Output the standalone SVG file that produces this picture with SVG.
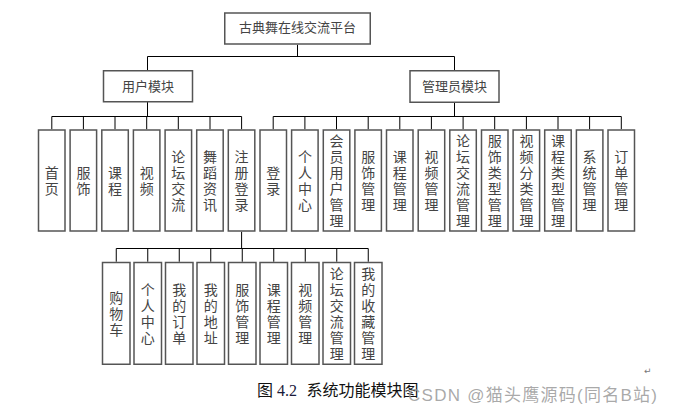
<svg xmlns="http://www.w3.org/2000/svg" width="677" height="413" viewBox="0 0 677 413">
<style>
.box{fill:#fff;stroke:#555;stroke-width:1.5}
.ln{stroke:#000;stroke-width:1;fill:none}
.t{font-family:"Noto Sans CJK SC","Liberation Serif",sans-serif;font-size:14px;fill:#444;text-anchor:middle}
.h{font-size:13px}
.v{writing-mode:vertical-rl;text-orientation:upright;letter-spacing:2px}
.cap{font-family:"Noto Sans CJK SC",sans-serif;font-size:16px;fill:#111}
</style>
<rect width="677" height="413" fill="#fff"/>
<g id="connectors">
<path class="ln" d="M297.5 44.75V56.5M147.5 56.5H454.5M147.5 56.5V70.75M454.5 56.5V70.75M147.5 102V116.5M454.5 102.25V116.5M51.8 116.5H241.6M273.2 116.5H621.3"/>
<path class="ln" d="M51.8 116.5V129.25M83.4 116.5V129.25M115 116.5V129.25M146.7 116.5V129.25M178.3 116.5V129.25M210 116.5V129.25M241.6 116.5V129.25M273.2 116.5V129.25M304.9 116.5V129.25M336.5 116.5V129.25M368.2 116.5V129.25M399.8 116.5V129.25M431.4 116.5V129.25M463.1 116.5V129.25M494.7 116.5V129.25M526.4 116.5V129.25M558 116.5V129.25M589.6 116.5V129.25M621.3 116.5V129.25"/>
<path class="ln" d="M241.6 231.75V248.5M116.25 248.5H368.25M116.25 248.5V261.75M147.75 248.5V261.75M179.25 248.5V261.75M210.75 248.5V261.75M242.25 248.5V261.75M273.75 248.5V261.75M305.25 248.5V261.75M336.75 248.5V261.75M368.25 248.5V261.75"/>
</g>
<g id="root"><rect class="box" x="224.75" y="13" width="145.5" height="31"/><text class="t h" x="297.5" y="31.5">古典舞在线交流平台</text></g>
<g id="user"><rect class="box" x="103.5" y="70.75" width="89" height="31"/><text class="t h" x="148" y="90.8">用户模块</text></g>
<g id="admin"><rect class="box" x="410" y="70.75" width="89" height="31.5"/><text class="t h" x="454.5" y="90.8">管理员模块</text></g>

<g id="u1"><rect class="box" x="38.5" y="130" width="26.5" height="101"/><text class="t v" x="51.8" y="181.5">首页</text></g>
<g id="u2"><rect class="box" x="70.1" y="130" width="26.5" height="101"/><text class="t v" x="83.4" y="181.5">服饰</text></g>
<g id="u3"><rect class="box" x="101.8" y="130" width="26.5" height="101"/><text class="t v" x="115" y="181.5">课程</text></g>
<g id="u4"><rect class="box" x="133.4" y="130" width="26.5" height="101"/><text class="t v" x="146.7" y="181.5">视频</text></g>
<g id="u5"><rect class="box" x="165.1" y="130" width="26.5" height="101"/><text class="t v" x="178.3" y="181.5">论坛交流</text></g>
<g id="u6"><rect class="box" x="196.7" y="130" width="26.5" height="101"/><text class="t v" x="210" y="181.5">舞蹈资讯</text></g>
<g id="u7"><rect class="box" x="228.3" y="130" width="26.5" height="101"/><text class="t v" x="241.6" y="181.5">注册登录</text></g>

<g id="a1"><rect class="box" x="260" y="130" width="26.5" height="101"/><text class="t v" x="273.2" y="181.5">登录</text></g>
<g id="a2"><rect class="box" x="291.6" y="130" width="26.5" height="101"/><text class="t v" x="304.9" y="181.5">个人中心</text></g>
<g id="a3"><rect class="box" x="323.3" y="130" width="26.5" height="101"/><text class="t v" x="336.5" y="181.5">会员用户管理</text></g>
<g id="a4"><rect class="box" x="354.9" y="130" width="26.5" height="101"/><text class="t v" x="368.2" y="181.5">服饰管理</text></g>
<g id="a5"><rect class="box" x="386.5" y="130" width="26.5" height="101"/><text class="t v" x="399.8" y="181.5">课程管理</text></g>
<g id="a6"><rect class="box" x="418.2" y="130" width="26.5" height="101"/><text class="t v" x="431.4" y="181.5">视频管理</text></g>
<g id="a7"><rect class="box" x="449.8" y="130" width="26.5" height="101"/><text class="t v" x="463.1" y="181.5">论坛交流管理</text></g>
<g id="a8"><rect class="box" x="481.5" y="130" width="26.5" height="101"/><text class="t v" x="494.7" y="181.5">服饰类型管理</text></g>
<g id="a9"><rect class="box" x="513.1" y="130" width="26.5" height="101"/><text class="t v" x="526.4" y="181.5">视频分类管理</text></g>
<g id="a10"><rect class="box" x="544.7" y="130" width="26.5" height="101"/><text class="t v" x="558" y="181.5">课程类型管理</text></g>
<g id="a11"><rect class="box" x="576.4" y="130" width="26.5" height="101"/><text class="t v" x="589.6" y="181.5">系统管理</text></g>
<g id="a12"><rect class="box" x="608" y="130" width="26.5" height="101"/><text class="t v" x="621.3" y="181.5">订单管理</text></g>

<g id="r1"><rect class="box" x="102.5" y="262.5" width="27.5" height="101.75"/><text class="t v" x="116.25" y="314.3">购物车</text></g>
<g id="r2"><rect class="box" x="134" y="262.5" width="27.5" height="101.75"/><text class="t v" x="147.75" y="314.3">个人中心</text></g>
<g id="r3"><rect class="box" x="165.5" y="262.5" width="27.5" height="101.75"/><text class="t v" x="179.25" y="314.3">我的订单</text></g>
<g id="r4"><rect class="box" x="197" y="262.5" width="27.5" height="101.75"/><text class="t v" x="210.75" y="314.3">我的地址</text></g>
<g id="r5"><rect class="box" x="228.5" y="262.5" width="27.5" height="101.75"/><text class="t v" x="242.25" y="314.3">服饰管理</text></g>
<g id="r6"><rect class="box" x="260" y="262.5" width="27.5" height="101.75"/><text class="t v" x="273.75" y="314.3">课程管理</text></g>
<g id="r7"><rect class="box" x="291.5" y="262.5" width="27.5" height="101.75"/><text class="t v" x="305.25" y="314.3">视频管理</text></g>
<g id="r8"><rect class="box" x="323" y="262.5" width="27.5" height="101.75"/><text class="t v" x="336.75" y="314.3">论坛交流管理</text></g>
<g id="r9"><rect class="box" x="354.5" y="262.5" width="27.5" height="101.75"/><text class="t v" x="368.25" y="314.3">我的收藏管理</text></g>

<text x="644" y="374" font-family="DejaVu Sans,sans-serif" font-size="9" fill="#777">↵</text>
<text class="cap" y="395.5"><tspan x="257">图</tspan><tspan x="277" font-family="Liberation Serif,serif" fill="#1a1a3a">4.2</tspan><tspan x="306.5">系统功能模块图</tspan></text>
<text x="408" y="400.5" font-family="Liberation Sans,Noto Sans CJK SC,sans-serif" font-size="17" fill="#9a9a9a" fill-opacity="0.85" textLength="249" lengthAdjust="spacing">CSDN @猫头鹰源码(同名B站)</text>
</svg>
